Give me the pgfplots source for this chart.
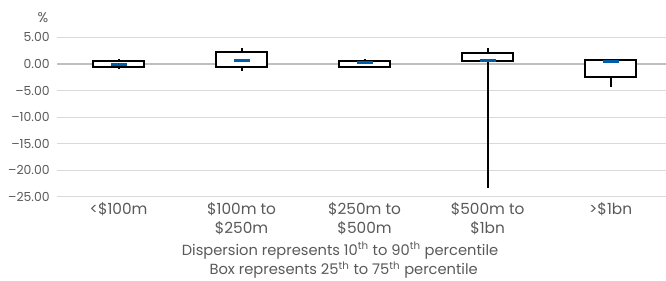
\documentclass[border=0pt]{standalone}
\usepackage{pgfplots}
\pgfplotsset{compat=1.18}
\usepgfplotslibrary{statistics}
\usepackage{fontspec}
\setmainfont{Poppins}
\definecolor{txt}{HTML}{595959}
\definecolor{grd}{HTML}{D9D9D9}
\definecolor{zer}{HTML}{BFBFBF}
\definecolor{med}{RGB}{0,94,168}
\begin{document}
\begin{tikzpicture}
\path[use as bounding box] (-42.75pt,-62.5pt) rectangle (456.75pt,147.5pt);
\begin{axis}[
  at={(0,0)}, anchor=south west,
  scale only axis, width=456.75pt, height=119.4pt,
  xmin=-0.5, xmax=4.45, ymin=-25, ymax=5,
  axis line style={draw=none},
  ytick={-25,-20,...,5},
  yticklabels={\textendash25.00,\textendash20.00,\textendash15.00,\textendash10.00,\textendash5.00,0.00,5.00},
  ymajorgrids, grid style={grd, line width=0.75pt},
  extra y ticks={0}, extra y tick labels={},
  extra y tick style={grid style={zer, line width=1.5pt}},
  major tick length=0pt,
  yticklabel style={font=\fontsize{9.3}{11}\selectfont, text=txt, anchor=east, xshift=-2pt},
  xtick={0,1,2,3,4},
  xticklabels={{<\$100m},{\$100m to\\\$250m},{\$250m to\\\$500m},{\$500m to\\\$1bn},{>\$1bn}},
  xticklabel style={font=\fontsize{11.5}{14.3}\selectfont, text=txt, align=center, anchor=north, yshift=-1pt},
  boxplot/draw direction=y,
  boxplot/draw/median/.code={},
  clip=false,
]
\addplot[boxplot prepared={draw position=0, lower whisker=-0.9, lower quartile=-0.57, median=-0.05, upper quartile=0.57, upper whisker=0.95, box extend=0.41, whisker extend=0}, draw=black, fill=white, line width=1.5pt, solid] coordinates {};
\addplot[boxplot prepared={draw position=1, lower whisker=-1.3, lower quartile=-0.5, median=0.7, upper quartile=2.2, upper whisker=3.1, box extend=0.41, whisker extend=0}, draw=black, fill=white, line width=1.5pt, solid] coordinates {};
\addplot[boxplot prepared={draw position=2, lower whisker=-0.8, lower quartile=-0.5, median=0.2, upper quartile=0.62, upper whisker=0.9, box extend=0.41, whisker extend=0}, draw=black, fill=white, line width=1.5pt, solid] coordinates {};
\addplot[boxplot prepared={draw position=3, lower whisker=-23.45, lower quartile=0.62, median=0.7, upper quartile=2.15, upper whisker=3.1, box extend=0.41, whisker extend=0}, draw=black, fill=white, line width=1.5pt, solid] coordinates {};
\addplot[boxplot prepared={draw position=4, lower whisker=-4.3, lower quartile=-2.5, median=0.5, upper quartile=0.75, upper whisker=0.75, box extend=0.41, whisker extend=0}, draw=black, fill=white, line width=1.5pt, solid] coordinates {};
\addplot[only marks, mark=-, mark size=6pt, mark options={draw=med, line width=2.25pt}] coordinates {(0,-0.05) (1,0.7) (2,0.2) (3,0.7) (4,0.5)};
\end{axis}
\node[text=txt, font=\fontsize{10.5}{12}\selectfont] at (-10.5pt,134pt) {\%};
\node[text=txt, font=\fontsize{11}{12}\selectfont] at (212.25pt,-40.5pt) {Dispersion represents 10\textsuperscript{th} to 90\textsuperscript{th} percentile};
\node[text=txt, font=\fontsize{11}{12}\selectfont] at (215pt,-55pt) {Box represents 25\textsuperscript{th} to 75\textsuperscript{th} percentile};
\end{tikzpicture}
\end{document}
